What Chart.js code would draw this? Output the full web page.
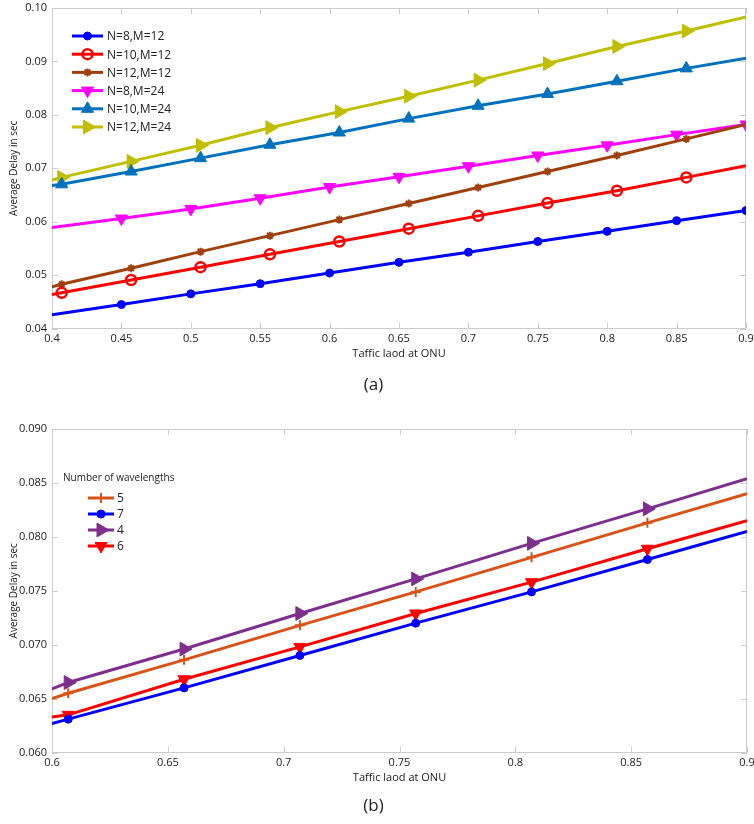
<!DOCTYPE html>
<html>
<head>
<meta charset="utf-8">
<script src="https://cdn.jsdelivr.net/npm/chart.js@4.4.1/dist/chart.umd.min.js"></script>
<style>
  body { margin: 0; background: #fff; }
  canvas { display: block; }
</style>
</head>
<body>
<canvas id="chartA" width="754" height="412"></canvas>
<canvas id="chartB" width="754" height="412"></canvas>
<script>
// ---- data (a) ----
const loadA = [0.40, 0.45, 0.50, 0.55, 0.60, 0.65, 0.70, 0.75, 0.80, 0.85, 0.90];
const loadAoff = [0.40, 0.407, 0.457, 0.507, 0.557, 0.607, 0.657, 0.707, 0.757, 0.807, 0.857, 0.90];
const delayN8M12 = [0.0426, 0.0445, 0.0465, 0.0484, 0.0504, 0.0524, 0.0543, 0.0563, 0.0582, 0.0602, 0.0621];
const delayN10M12 = [0.0464, 0.0467, 0.0491, 0.0515, 0.0539, 0.0563, 0.0587, 0.0611, 0.0635, 0.0658, 0.0683, 0.0705];
const delayN12M12 = [0.0478, 0.0483, 0.0513, 0.0544, 0.0574, 0.0604, 0.0634, 0.0664, 0.0694, 0.0724, 0.0755, 0.0782];
const delayN8M24 = [0.0589, 0.0606, 0.0624, 0.0644, 0.0665, 0.0684, 0.0704, 0.0724, 0.0743, 0.0763, 0.0782];
const delayN10M24 = [0.0668, 0.0670, 0.0694, 0.0719, 0.0744, 0.0767, 0.0793, 0.0817, 0.0839, 0.0863, 0.0887, 0.0906];
const delayN12M24 = [0.0678, 0.0683, 0.0713, 0.0743, 0.0776, 0.0806, 0.0835, 0.0865, 0.0896, 0.0928, 0.0957, 0.0983];

// ---- data (b) ----
const loadB = [0.60, 0.607, 0.657, 0.707, 0.757, 0.807, 0.857, 0.90];
const wavelengthLabels = ['5', '7', '4', '6'];
const delayW5 = [0.0650, 0.0655, 0.0686, 0.0718, 0.0749, 0.0781, 0.0813, 0.0840];
const delayW7 = [0.0627, 0.0631, 0.0660, 0.0690, 0.0720, 0.0749, 0.0779, 0.0805];
const delayW4 = [0.0659, 0.0665, 0.0696, 0.0729, 0.0761, 0.0794, 0.0826, 0.0854];
const delayW6 = [0.0633, 0.0635, 0.0668, 0.0698, 0.0729, 0.0758, 0.0789, 0.0815];

const FONT = "'Open Sans', 'Noto Sans', sans-serif";

const pts = (xs, ys) => xs.map((x, i) => ({ x: x, y: ys[i] }));
// no marker on the first point (and on the last one for the offset series)
const radii = (n, r, lastToo) => Array.from({ length: n }, (_, i) => (i === 0 || (lastToo && i === n - 1)) ? 0 : r);

const series = (label, xs, ys, color, style, r, opts = {}) => ({
    label: label,
    data: pts(xs, ys),
    borderColor: color,
    backgroundColor: color,
    borderWidth: 3,
    pointStyle: style,
    pointRadius: radii(xs.length, r, xs.length !== 11),
    pointRotation: opts.rotation || 0,
    pointBackgroundColor: opts.hollow ? 'rgba(0,0,0,0)' : color,
    pointBorderColor: color,
    pointBorderWidth: opts.pbw || 1,
    legendRadius: r,
});

// box with inward ticks, matlab style
const boxTicks = {
    id: 'boxTicks',
    beforeDatasetsDraw(chart) {
        const { ctx, chartArea: a, scales: { x, y } } = chart;
        ctx.save();
        ctx.strokeStyle = '#cccccc';
        ctx.lineWidth = 1;
        ctx.strokeRect(Math.round(a.left) + 0.5, Math.round(a.top) + 0.5, Math.round(a.width) - 1, Math.round(a.height) - 1);
        ctx.beginPath();
        x.ticks.forEach(t => {
            const px = Math.round(x.getPixelForValue(t.value)) + 0.5;
            ctx.moveTo(px, a.bottom); ctx.lineTo(px, a.bottom - 6);
            ctx.moveTo(px, a.top); ctx.lineTo(px, a.top + 6);
        });
        y.ticks.forEach(t => {
            const py = Math.round(y.getPixelForValue(t.value)) + 0.5;
            ctx.moveTo(a.left, py); ctx.lineTo(a.left + 6, py);
            ctx.moveTo(a.right, py); ctx.lineTo(a.right - 6, py);
        });
        ctx.stroke();
        ctx.restore();
    }
};

// legend drawn inside the plot area
const innerLegend = {
    id: 'innerLegend',
    afterDatasetsDraw(chart, args, o) {
        const ctx = chart.ctx;
        ctx.save();
        ctx.textBaseline = 'middle';
        if (o.title) {
            ctx.fillStyle = '#222';
            ctx.font = o.titleFont;
            ctx.fillText(o.title, o.titleX, o.titleY);
        }
        ctx.font = o.font;
        chart.data.datasets.forEach((ds, i) => {
            const y = o.y + i * o.step;
            ctx.strokeStyle = ds.borderColor;
            ctx.lineWidth = ds.borderWidth;
            ctx.beginPath();
            ctx.moveTo(o.x0, y);
            ctx.lineTo(o.x1, y);
            ctx.stroke();
            ctx.fillStyle = ds.pointBackgroundColor;
            ctx.strokeStyle = ds.pointBorderColor;
            ctx.lineWidth = ds.pointBorderWidth;
            Chart.helpers.drawPoint(ctx, {
                pointStyle: ds.pointStyle,
                radius: ds.legendRadius,
                rotation: ds.pointRotation,
                borderWidth: ds.pointBorderWidth
            }, (o.x0 + o.x1) / 2, y);
            ctx.fillStyle = '#222';
            ctx.fillText(ds.label, o.textX, y + 1);
        });
        ctx.restore();
    }
};

const fmt = v => String(+v.toFixed(3));
const noPad = s => { s.paddingTop = 0; s.paddingBottom = 0; s.paddingLeft = 0; s.paddingRight = 0; };

const makeOptions = (cfg) => ({
    responsive: false,
    animation: false,
    layout: { padding: { top: cfg.top, right: 7, left: 0, bottom: 0 } },
    plugins: {
        legend: { display: false },
        tooltip: { enabled: false },
        title: {
            display: true,
            text: cfg.tag,
            position: 'bottom',
            color: '#222',
            font: { family: FONT, size: 17, weight: 'normal' },
            padding: cfg.tagPad
        },
        innerLegend: cfg.legend
    },
    scales: {
        x: {
            type: 'linear',
            min: cfg.xMin, max: 0.9,
            grid: { display: false, drawTicks: false },
            border: { display: false },
            ticks: { stepSize: 0.05, padding: 4, color: '#222', font: { family: FONT, size: 11 }, callback: v => fmt(v), maxRotation: 0 },
            title: { display: true, text: 'Taffic laod at ONU', color: '#222', font: { family: FONT, size: 11 }, padding: { top: 0, bottom: 0 } },
            afterFit: s => { s.height = 32; noPad(s); }
        },
        y: {
            min: cfg.yMin, max: cfg.yMax,
            grid: { display: false, drawTicks: false },
            border: { display: false },
            ticks: { stepSize: cfg.yStep, padding: 5, color: '#222', font: { family: FONT, size: 11 }, callback: v => v.toFixed(cfg.yDec) },
            title: { display: true, text: 'Average Delay in sec', color: '#222', font: { family: FONT, size: 10 }, padding: { top: 8, bottom: 0 } },
            afterFit: s => { s.width = 52; noPad(s); }
        }
    }
});

new Chart(document.getElementById('chartA'), {
    type: 'line',
    data: {
        datasets: [
            series('N=8,M=12', loadA, delayN8M12, '#0000ff', 'circle', 4),
            series('N=10,M=12', loadAoff, delayN10M12, '#ff0000', 'circle', 5, { hollow: true, pbw: 2.5 }),
            series('N=12,M=12', loadAoff, delayN12M12, '#a0410d', 'star', 4, { pbw: 2 }),
            series('N=8,M=24', loadA, delayN8M24, '#ff00ff', 'triangle', 7, { rotation: 180 }),
            series('N=10,M=24', loadAoff, delayN10M24, '#0072bd', 'triangle', 7),
            series('N=12,M=24', loadAoff, delayN12M24, '#bfbf00', 'triangle', 8, { rotation: 90 })
        ]
    },
    options: makeOptions({
        top: 5, tag: '(a)', tagPad: { top: 14, bottom: 17 },
        xMin: 0.4, yMin: 0.04, yMax: 0.10, yStep: 0.01, yDec: 2,
        legend: { x0: 72, x1: 103, textX: 107, y: 36, step: 18.2, font: '12px ' + FONT }
    }),
    plugins: [boxTicks, innerLegend]
});

new Chart(document.getElementById('chartB'), {
    type: 'line',
    data: {
        datasets: [
            series(wavelengthLabels[0], loadB, delayW5, '#d95319', 'cross', 5, { pbw: 2 }),
            series(wavelengthLabels[1], loadB, delayW7, '#0000ff', 'circle', 4),
            series(wavelengthLabels[2], loadB, delayW4, '#7e2f8e', 'triangle', 8, { rotation: 90 }),
            series(wavelengthLabels[3], loadB, delayW6, '#ff0000', 'triangle', 7, { rotation: 180 })
        ]
    },
    options: makeOptions({
        top: 17, tag: '(b)', tagPad: { top: 11, bottom: 8 },
        xMin: 0.6, yMin: 0.06, yMax: 0.09, yStep: 0.005, yDec: 3,
        legend: {
            x0: 88, x1: 114, textX: 117, y: 86, step: 16, font: '12px ' + FONT,
            title: 'Number of wavelengths', titleX: 63, titleY: 66, titleFont: '10px ' + FONT
        }
    }),
    plugins: [boxTicks, innerLegend]
});
</script>
</body>
</html>
